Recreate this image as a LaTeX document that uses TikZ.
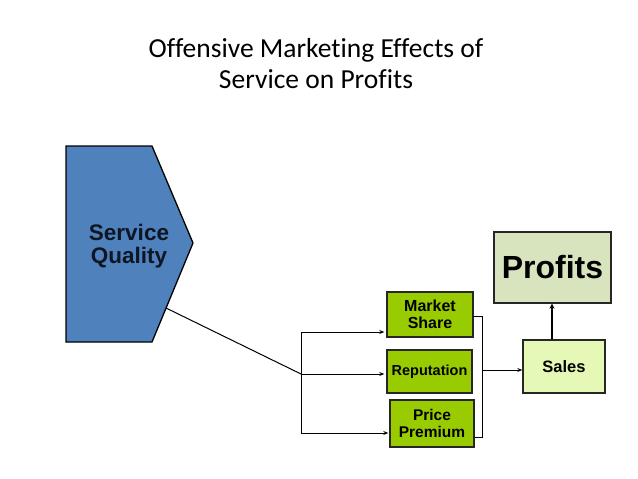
\documentclass[tikz,border=0pt]{standalone}
\usepackage{fontspec}
\setmainfont{Liberation Sans}
\newfontfamily\calib[Ligatures=NoCommon]{Carlito}
\usetikzlibrary{arrows.meta}
\definecolor{sqblue}{HTML}{4F81BD}
\definecolor{boxgreen}{HTML}{99CC00}
\definecolor{profitfill}{HTML}{D8E4BD}
\definecolor{salesfill}{HTML}{E6F8B6}
\definecolor{sqtext}{HTML}{0E1624}
\tikzset{
  gbox/.style={draw=black!85, line width=1.4pt, fill=boxgreen, align=center, inner sep=0pt, font=\bfseries},
  conn/.style={line width=1pt, draw=black},
  arr/.style={conn, -{Stealth[length=5pt,width=4pt]}},
}
\begin{document}
\begin{tikzpicture}[x=1pt,y=-1pt]
\useasboundingbox (0,0) rectangle (638,479);
% title
\node[font={\calib\fontsize{27.5}{31}\selectfont}, align=center, anchor=base] (title) at (316,88)
  {Offensive Marketing Effects of\\Service on Profits};
% pentagon
\draw[line width=1.3pt, fill=sqblue] (66,146) -- (152,146) -- (193,243) -- (152,342) -- (66,342) -- cycle;
\node[font={\bfseries\fontsize{22.5}{23.5}\selectfont}, text=sqtext, align=center] (sq) at (129,246) {Service\\Quality};
\coordinate (sqedge) at (166,308);
% green boxes
\node[gbox, minimum width=86pt, minimum height=45pt, font={\bfseries\fontsize{16}{16.5}\selectfont}] (ms) at (430,314.5) {Market\\Share};
\node[gbox, minimum width=85pt, minimum height=43pt, font={\bfseries\fontsize{14.5}{16}\selectfont}] (rep) at (429.5,371.5) {Reputation};
\node[gbox, minimum width=84pt, minimum height=47pt, font={\bfseries\fontsize{15.5}{17}\selectfont}] (pp) at (432,423.5) {Price\\Premium};
\node[draw=black!85, line width=1.4pt, fill=salesfill, minimum width=82pt, minimum height=53pt, inner sep=0pt, font={\bfseries\fontsize{16.5}{18}\selectfont}] (sales) at (564,366.5) {Sales};
\node[draw=black!85, line width=1.4pt, fill=profitfill, minimum width=117pt, minimum height=71pt, inner sep=0pt, font={\bfseries\fontsize{32}{34}\selectfont}] (profits) at (552.5,267.5) {Profits};
% left bus
\coordinate (bt) at (301,332);
\coordinate (bm) at (301,374);
\coordinate (bb) at (301,433);
\draw[conn] (sqedge) -- (bm);
\draw[conn] (bt) -- (bb);
\draw[arr] (bt) -- ([xshift=-2pt]bt -| ms.west);
\draw[arr] (bm) -- ([xshift=-2pt]bm -| rep.west);
\draw[arr] (bb) -- ([xshift=-1pt]bb -| pp.west);
% right bus
\coordinate (rt) at (482,316);
\coordinate (rm) at (482,370);
\coordinate (rb) at (482,437);
\draw[conn] (rt -| ms.east) -- (rt) -- (rb) -- (rb -| pp.east);
\draw[arr] (rm) -- (rm -| sales.west);
% sales to profits
\draw[line width=2.6pt, -{Stealth[length=5pt,width=5pt]}] (sales.north -| 552,0) -- (profits.south -| 552,0);
\end{tikzpicture}
\end{document}
